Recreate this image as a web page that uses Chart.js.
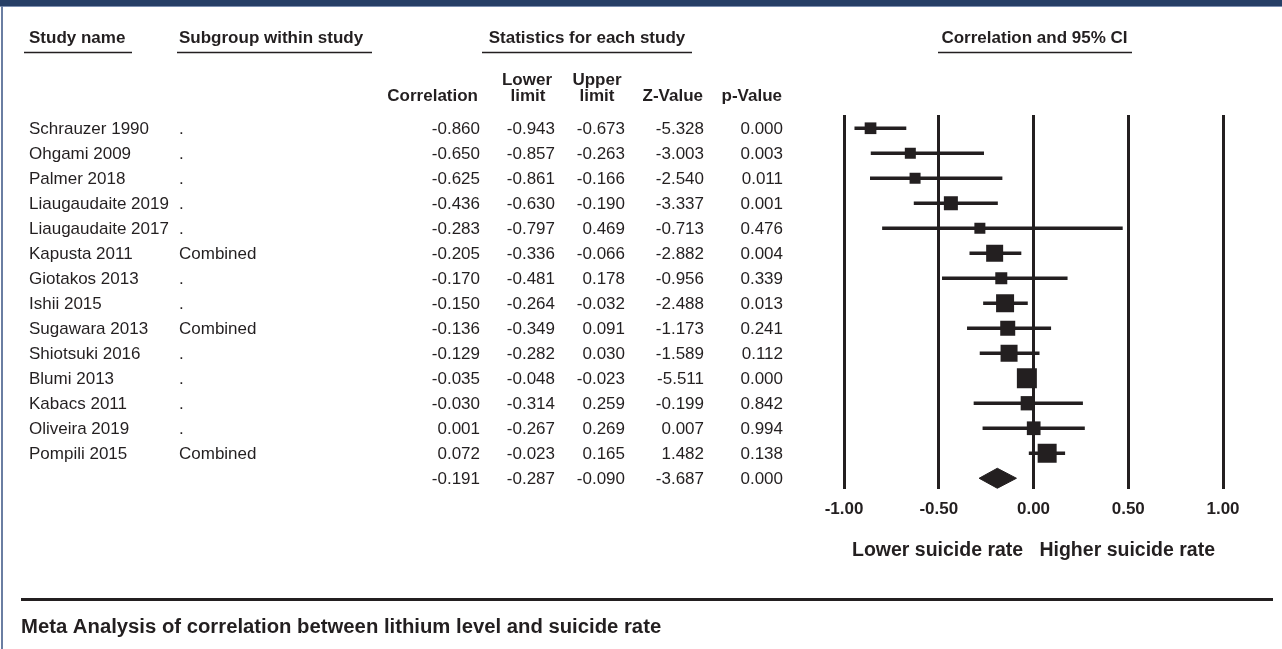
<!DOCTYPE html>
<html>
<head>
<meta charset="utf-8">
<script src="https://cdn.jsdelivr.net/npm/chart.js@4/dist/chart.umd.min.js"></script>
<style>
  html, body { margin: 0; padding: 0; background: #fff; }
  body { width: 1282px; height: 649px; position: relative; overflow: hidden; }
  #topbar { position: absolute; left: 0; top: 0; width: 1282px; height: 6px; background: #263f66; border-bottom: 1px solid #7d8fb0; }
  #leftbar { position: absolute; left: 1px; top: 6px; width: 2px; height: 643px; background: #6a7ea2; }
  #forest { position: absolute; left: 0; top: 0; }
</style>
</head>
<body>
<canvas id="forest" width="1282" height="649"></canvas>
<div id="topbar"></div>
<div id="leftbar"></div>
<script>
// study rows, top to bottom
const studyNames = ['Schrauzer 1990', 'Ohgami 2009', 'Palmer 2018', 'Liaugaudaite 2019', 'Liaugaudaite 2017',
  'Kapusta 2011', 'Giotakos 2013', 'Ishii 2015', 'Sugawara 2013', 'Shiotsuki 2016', 'Blumi 2013',
  'Kabacs 2011', 'Oliveira 2019', 'Pompili 2015'];
const subgroups = ['.', '.', '.', '.', '.', 'Combined', '.', '.', 'Combined', '.', '.', '.', '.', 'Combined'];
const correlation = [-0.860, -0.650, -0.625, -0.436, -0.283, -0.205, -0.170, -0.150, -0.136, -0.129, -0.035, -0.030, 0.001, 0.072];
const lowerLimit = [-0.943, -0.857, -0.861, -0.630, -0.797, -0.336, -0.481, -0.264, -0.349, -0.282, -0.048, -0.314, -0.267, -0.023];
const upperLimit = [-0.673, -0.263, -0.166, -0.190, 0.469, -0.066, 0.178, -0.032, 0.091, 0.030, -0.023, 0.259, 0.269, 0.165];
const zValues = [-5.328, -3.003, -2.540, -3.337, -0.713, -2.882, -0.956, -2.488, -1.173, -1.589, -5.511, -0.199, 0.007, 1.482];
const pValues = [0.000, 0.003, 0.011, 0.001, 0.476, 0.004, 0.339, 0.013, 0.241, 0.112, 0.000, 0.842, 0.994, 0.138];

// pooled estimate (last row)
const summary = { correlation: -0.191, lower: -0.287, upper: -0.090, z: -3.687, p: 0.000 };

const xTicks = [-1, -0.5, 0, 0.5, 1];
const xTitle = 'Lower suicide rate   Higher suicide rate';
const footerTitle = 'Meta Analysis of correlation between lithium level and suicide rate';

// box sides in px (study weight)
const boxSide = [11.7, 11, 11, 14, 11, 17, 12, 18, 15, 17, 20, 14.3, 13.7, 19];

const ink = '#231f20';
const fontFamily = '"Liberation Sans", Arial, Helvetica, sans-serif';
const summaryRow = studyNames.length;

const tablePlugin = {
  id: 'forestTable',
  afterDraw(chart) {
    const ctx = chart.ctx;
    const y = chart.scales.y;
    const area = chart.chartArea;
    ctx.save();
    ctx.fillStyle = ink;
    ctx.strokeStyle = ink;

    // group headers
    ctx.font = 'bold 17px ' + fontFamily;
    ctx.textBaseline = 'alphabetic';
    ctx.textAlign = 'left';
    ctx.fillText('Study name', 29, 43);
    ctx.fillText('Subgroup within study', 179, 43);
    ctx.textAlign = 'center';
    ctx.fillText('Statistics for each study', 587, 43);
    ctx.fillText('Correlation and 95% CI', (area.left + area.right) / 2 + 1, 43);

    ctx.lineWidth = 1.3;
    [[24, 132], [177, 372], [482, 692], [938, 1132]].forEach(([a, b]) => {
      ctx.beginPath();
      ctx.moveTo(a, 52.5);
      ctx.lineTo(b, 52.5);
      ctx.stroke();
    });

    // column headers
    ctx.textAlign = 'right';
    ctx.fillText('Correlation', 478, 101);
    ctx.fillText('Z-Value', 703, 101);
    ctx.fillText('p-Value', 782, 101);
    ctx.textAlign = 'center';
    ctx.fillText('Lower', 527, 85);
    ctx.fillText('limit', 528, 101);
    ctx.fillText('Upper', 597, 85);
    ctx.fillText('limit', 597, 101);

    // rows
    ctx.font = '17px ' + fontFamily;
    const numCols = [480, 555, 625, 704, 783];
    const writeRow = (i, name, sub, vals) => {
      const by = y.getPixelForValue(i) + 6;
      ctx.textAlign = 'left';
      ctx.fillText(name, 29, by);
      ctx.fillText(sub, 179, by);
      ctx.textAlign = 'right';
      vals.forEach((v, k) => ctx.fillText(v.toFixed(3), numCols[k], by));
    };
    studyNames.forEach((name, i) => {
      writeRow(i, name, subgroups[i], [correlation[i], lowerLimit[i], upperLimit[i], zValues[i], pValues[i]]);
    });
    writeRow(summaryRow, '', '', [summary.correlation, summary.lower, summary.upper, summary.z, summary.p]);

    // bottom rule and caption
    ctx.lineWidth = 3;
    ctx.beginPath();
    ctx.moveTo(21, 599.5);
    ctx.lineTo(1273, 599.5);
    ctx.stroke();
    ctx.font = 'bold 20.3px ' + fontFamily;
    ctx.textAlign = 'left';
    ctx.fillText(footerTitle, 21, 633);
    ctx.restore();
  }
};

const rows = studyNames.map((_, i) => i);

new Chart(document.getElementById('forest'), {
  type: 'scatter',
  data: {
    datasets: [
      {
        label: 'Correlation',
        data: rows.map(i => ({ x: correlation[i], y: i })),
        pointStyle: 'rect',
        pointRadius: boxSide.map(s => s / Math.SQRT2),
        backgroundColor: ink,
        borderWidth: 0,
        order: 0
      },
      {
        type: 'bar',
        label: '95% CI',
        indexAxis: 'y',
        data: rows.map(i => ({ y: i, x: [lowerLimit[i], upperLimit[i]] })),
        barThickness: 3,
        backgroundColor: ink,
        borderWidth: 0,
        order: 1
      },
      {
        type: 'line',
        label: 'Pooled',
        data: [
          { x: summary.lower, y: summaryRow },
          { x: summary.correlation, y: summaryRow - 0.4 },
          { x: summary.upper, y: summaryRow },
          { x: summary.correlation, y: summaryRow + 0.4 },
          { x: summary.lower, y: summaryRow }
        ],
        showLine: true,
        fill: 'shape',
        tension: 0,
        pointRadius: 0,
        borderColor: ink,
        borderWidth: 1,
        backgroundColor: ink,
        order: 0
      }
    ]
  },
  options: {
    responsive: false,
    animation: false,
    events: [],
    layout: { padding: { left: 844, right: 59, top: 115, bottom: 87 } },
    plugins: { legend: { display: false }, tooltip: { enabled: false } },
    scales: {
      x: {
        type: 'linear',
        min: -1,
        max: 1,
        offset: false,
        afterFit: s => { s.height = 73; },
        afterBuildTicks: s => { s.ticks = xTicks.map(v => ({ value: v })); },
        ticks: {
          color: ink,
          font: { family: fontFamily, size: 17, weight: 'bold' },
          padding: 10,
          maxRotation: 0,
          autoSkip: false,
          callback: v => v.toFixed(2)
        },
        grid: { color: ink, lineWidth: 3, drawTicks: false, offset: false },
        border: { display: false },
        title: {
          display: true,
          text: xTitle,
          color: ink,
          font: { family: fontFamily, size: 19.5, weight: 'bold' },
          padding: 0
        }
      },
      y: {
        type: 'linear',
        display: false,
        reverse: true,
        offset: false,
        grid: { offset: false },
        min: -0.53,
        max: 14.43
      }
    }
  },
  plugins: [tablePlugin]
});
</script>
</body>
</html>
